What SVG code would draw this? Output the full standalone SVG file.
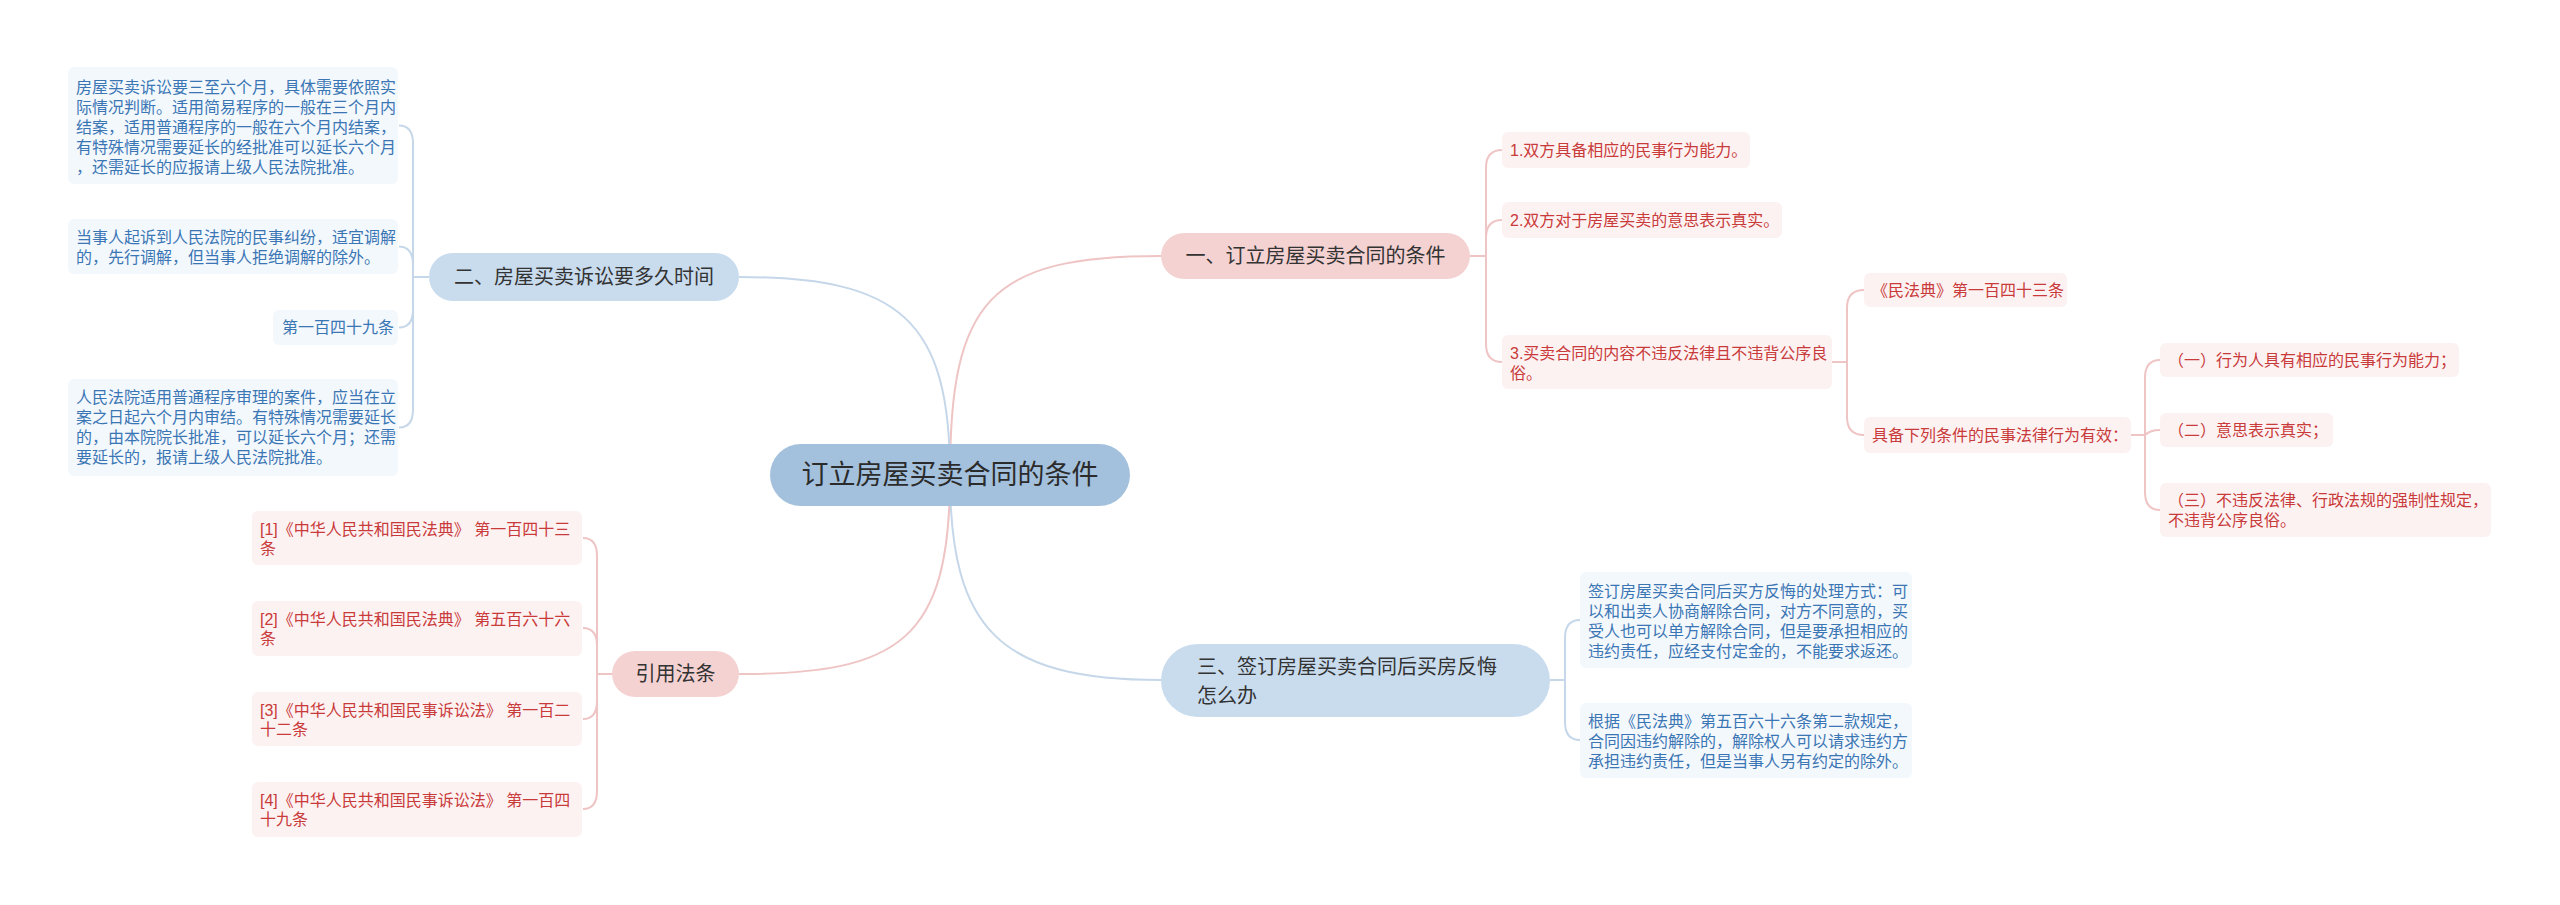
<svg xmlns="http://www.w3.org/2000/svg" width="2560" height="905" viewBox="0 0 2560 905">
<style>
text{font-family:"Liberation Sans","Noto Sans CJK SC",sans-serif;dominant-baseline:central}
.root rect{fill:#a3c1dd}
.root text{font-size:27px;fill:#2b2b2b}
.bp rect{fill:#f5d2d2}
.bb rect{fill:#c9dcee}
.bp text,.bb text{font-size:20px;fill:#333}
.lp rect{fill:#fdf2f2}
.lp text{font-size:16px;fill:#c93a3a}
.lb rect{fill:#f3f8fd}
.lb text{font-size:16px;fill:#3b76b4}
.cp{fill:none;stroke:#efc4c4;stroke-width:2}
.cb{fill:none;stroke:#c5d7e9;stroke-width:2}
</style>
<rect width="2560" height="905" fill="#fff"/>
<g id="connectors">
<path class="cp" d="M950,475 C950,300 990,256 1161,256"/>
<path class="cb" d="M950,475 C950,320 900,277 739,277"/>
<path class="cb" d="M950,475 C950,630 1000,680 1161,680"/>
<path class="cp" d="M950,475 C950,640 900,674 739,674"/>
<path class="cp" d="M1470,256 H1486 V168 Q1486,150 1502,150"/>
<path class="cp" d="M1470,256 H1486 V238 Q1486,220 1502,220"/>
<path class="cp" d="M1470,256 H1486 V344 Q1486,362 1502,362"/>
<path class="cp" d="M1832,362 H1847 V308 Q1847,290 1864,290"/>
<path class="cp" d="M1832,362 H1847 V417 Q1847,435 1864,435"/>
<path class="cp" d="M2131,435 H2145 V378 Q2145,360 2160,360"/>
<path class="cp" d="M2131,435 H2145 Q2150,430 2160,430"/>
<path class="cp" d="M2131,435 H2145 V492 Q2145,510 2160,510"/>
<path class="cb" d="M1550,680 H1565 V638 Q1565,620 1580,620"/>
<path class="cb" d="M1550,680 H1565 V722 Q1565,740 1580,740"/>
<path class="cb" d="M429,277 H413 V143.5 Q413,125.5 399,125.5"/>
<path class="cb" d="M429,277 H413 V264.5 Q413,246.5 399,246.5"/>
<path class="cb" d="M429,277 H413 V309.5 Q413,327.5 399,327.5"/>
<path class="cb" d="M429,277 H413 V409.5 Q413,427.5 399,427.5"/>
<path class="cp" d="M612,674 H597 V556 Q597,538 583,538"/>
<path class="cp" d="M612,674 H597 V646 Q597,628 583,628"/>
<path class="cp" d="M612,674 H597 V701 Q597,719 583,719"/>
<path class="cp" d="M612,674 H597 V791 Q597,809 583,809"/>
</g>
<g id="root" class="root">
<rect x="770" y="444" width="360" height="62" rx="31"/>
<text x="950" y="475" text-anchor="middle">订立房屋买卖合同的条件</text>
</g>
<g id="b1" class="bp">
<rect x="1161" y="233" width="309" height="46" rx="23"/>
<text x="1315.5" y="256" text-anchor="middle">一、订立房屋买卖合同的条件</text>
</g>
<g id="b1l1" class="lp">
<rect x="1502" y="132" width="248" height="36" rx="6"/>
<text x="1510" y="150">1.双方具备相应的民事行为能力。</text>
</g>
<g id="b1l2" class="lp">
<rect x="1502" y="202" width="280" height="36" rx="6"/>
<text x="1510" y="220">2.双方对于房屋买卖的意思表示真实。</text>
</g>
<g id="b1l3" class="lp">
<rect x="1502" y="335" width="330" height="54" rx="6"/>
<text x="1510" y="353">3.买卖合同的内容不违反法律且不违背公序良</text>
<text x="1510" y="373">俗。</text>
</g>
<g id="b1l3a" class="lp">
<rect x="1864" y="273" width="203" height="34" rx="6"/>
<text x="1872" y="290">《民法典》第一百四十三条</text>
</g>
<g id="b1l3b" class="lp">
<rect x="1864" y="417" width="267" height="36" rx="6"/>
<text x="1872" y="435">具备下列条件的民事法律行为有效：</text>
</g>
<g id="c1" class="lp">
<rect x="2160" y="343" width="299" height="34" rx="6"/>
<text x="2168" y="360">（一）行为人具有相应的民事行为能力；</text>
</g>
<g id="c2" class="lp">
<rect x="2160" y="413" width="173" height="34" rx="6"/>
<text x="2168" y="430">（二）意思表示真实；</text>
</g>
<g id="c3" class="lp">
<rect x="2160" y="483" width="331" height="54" rx="6"/>
<text x="2168" y="500">（三）不违反法律、行政法规的强制性规定，</text>
<text x="2168" y="520">不违背公序良俗。</text>
</g>
<g id="b2" class="bb">
<rect x="429" y="253" width="310" height="48" rx="24"/>
<text x="584" y="277" text-anchor="middle">二、房屋买卖诉讼要多久时间</text>
</g>
<g id="b2l1" class="lb">
<rect x="68" y="67" width="330" height="117" rx="6"/>
<text x="76" y="87">房屋买卖诉讼要三至六个月，具体需要依照实</text>
<text x="76" y="107">际情况判断。适用简易程序的一般在三个月内</text>
<text x="76" y="127">结案，适用普通程序的一般在六个月内结案，</text>
<text x="76" y="147">有特殊情况需要延长的经批准可以延长六个月</text>
<text x="76" y="167">，还需延长的应报请上级人民法院批准。</text>
</g>
<g id="b2l2" class="lb">
<rect x="68" y="219" width="330" height="55" rx="6"/>
<text x="76" y="237">当事人起诉到人民法院的民事纠纷，适宜调解</text>
<text x="76" y="257">的，先行调解，但当事人拒绝调解的除外。</text>
</g>
<g id="b2l3" class="lb">
<rect x="273" y="310" width="125" height="35" rx="6"/>
<text x="282" y="327.5">第一百四十九条</text>
</g>
<g id="b2l4" class="lb">
<rect x="68" y="379" width="330" height="97" rx="6"/>
<text x="76" y="397">人民法院适用普通程序审理的案件，应当在立</text>
<text x="76" y="417">案之日起六个月内审结。有特殊情况需要延长</text>
<text x="76" y="437">的，由本院院长批准，可以延长六个月；还需</text>
<text x="76" y="457">要延长的，报请上级人民法院批准。</text>
</g>
<g id="b3" class="bb">
<rect x="1161" y="644" width="389" height="73" rx="36.5"/>
<text x="1197" y="667">三、签订房屋买卖合同后买房反悔</text>
<text x="1197" y="696">怎么办</text>
</g>
<g id="b3l1" class="lb">
<rect x="1580" y="572" width="332" height="96" rx="6"/>
<text x="1588" y="591">签订房屋买卖合同后买方反悔的处理方式：可</text>
<text x="1588" y="611">以和出卖人协商解除合同，对方不同意的，买</text>
<text x="1588" y="631">受人也可以单方解除合同，但是要承担相应的</text>
<text x="1588" y="651">违约责任，应经支付定金的，不能要求返还。</text>
</g>
<g id="b3l2" class="lb">
<rect x="1580" y="703" width="332" height="75" rx="6"/>
<text x="1588" y="721">根据《民法典》第五百六十六条第二款规定，</text>
<text x="1588" y="741">合同因违约解除的，解除权人可以请求违约方</text>
<text x="1588" y="761">承担违约责任，但是当事人另有约定的除外。</text>
</g>
<g id="b4" class="bp">
<rect x="612" y="651" width="127" height="46" rx="23"/>
<text x="675.5" y="674" text-anchor="middle">引用法条</text>
</g>
<g id="r1" class="lp">
<rect x="252" y="511" width="330" height="54" rx="6"/>
<text x="260" y="529">[1]《中华人民共和国民法典》 第一百四十三</text>
<text x="260" y="548">条</text>
</g>
<g id="r2" class="lp">
<rect x="252" y="601" width="330" height="55" rx="6"/>
<text x="260" y="619">[2]《中华人民共和国民法典》 第五百六十六</text>
<text x="260" y="638">条</text>
</g>
<g id="r3" class="lp">
<rect x="252" y="692" width="330" height="54" rx="6"/>
<text x="260" y="710">[3]《中华人民共和国民事诉讼法》 第一百二</text>
<text x="260" y="729">十二条</text>
</g>
<g id="r4" class="lp">
<rect x="252" y="782" width="330" height="55" rx="6"/>
<text x="260" y="800">[4]《中华人民共和国民事诉讼法》 第一百四</text>
<text x="260" y="819">十九条</text>
</g>
</svg>
